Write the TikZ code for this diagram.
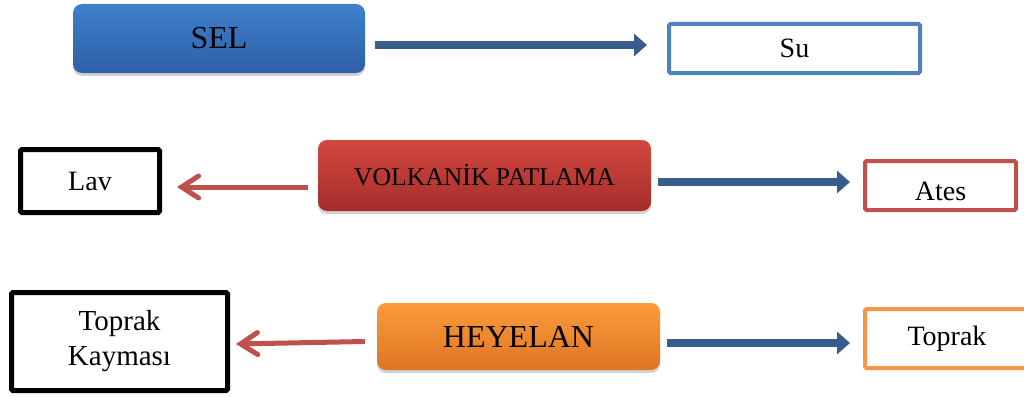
\documentclass[tikz,border=0pt]{standalone}
\usepackage{fontspec}
\setmainfont{Liberation Serif}
\usetikzlibrary{arrows.meta,shadows}
\definecolor{bluefillA}{HTML}{3E80CC}
\definecolor{bluefillB}{HTML}{2E5FA6}
\definecolor{redfillA}{HTML}{D2473F}
\definecolor{redfillB}{HTML}{A52E2B}
\definecolor{orfillA}{HTML}{FB9C3C}
\definecolor{orfillB}{HTML}{DE7424}
\definecolor{bluedge}{HTML}{4F81BD}
\definecolor{redge}{HTML}{C0504D}
\definecolor{oredge}{HTML}{F79646}
\definecolor{arrblue}{HTML}{385D8A}
\definecolor{arrred}{HTML}{C0504D}
\tikzset{
  shbox/.style={rounded corners=9pt, inner sep=0pt, text=black,
    drop shadow={shadow xshift=0pt, shadow yshift=-3pt, opacity=0.35}},
  obox/.style={draw, rounded corners=1.5pt, inner sep=0pt, fill=white, text=black},
  bluearr/.style={draw=arrblue, line width=8pt, -{Triangle[length=13pt,width=22pt]}},
  redarr/.style={draw=arrred, line width=5pt, -{Straight Barb[length=17pt,width=22pt,line cap=round]}},
}
\begin{document}
\begin{tikzpicture}[x=1pt,y=-1pt]
\useasboundingbox (0,0) rectangle (1024,396);
% row 1
\node[shbox, top color=bluefillA, bottom color=bluefillB, minimum width=292pt, minimum height=69pt,
  font=\fontsize{32}{36}\selectfont] (sel) at (219,38.5) {SEL};
\node[obox, draw=bluedge, line width=4pt, minimum width=251pt, minimum height=49pt,
  font=\fontsize{28}{32}\selectfont] (su) at (794.5,48.5) {Su};
\draw[bluearr] ([xshift=10pt,yshift=-6.5pt]sel.east) -- ([xshift=-20pt,yshift=3.5pt]su.west);
% row 2
\node[obox, draw=black, line width=5pt, minimum width=139pt, minimum height=63pt,
  font=\fontsize{28}{32}\selectfont] (lav) at (90,181) {Lav};
\node[shbox, top color=redfillA, bottom color=redfillB, minimum width=333pt, minimum height=71pt,
  font=\fontsize{25.7}{30}\selectfont] (volk) at (484.5,175.5) {VOLKANİK PATLAMA};
\node[obox, draw=redge, line width=4pt, minimum width=151pt, minimum height=49pt,
  font=\fontsize{28}{32}\selectfont] (ates) at (940.5,185.5) {\raisebox{-14.5pt}[0pt][0pt]{Ates}};
\draw[redarr] ([xshift=-10pt,yshift=-11.5pt]volk.west) -- ([xshift=15pt,yshift=-6pt]lav.east);
\draw[bluearr] ([xshift=7pt,yshift=-6.5pt]volk.east) -- ([xshift=-13pt,yshift=3.5pt]ates.west);
% row 3
\node[obox, draw=black, line width=5pt, minimum width=216pt, minimum height=98pt, align=center,
  font=\fontsize{29}{35}\selectfont] (tk) at (119.5,341.5) {Toprak\\Kayması};
\node[shbox, top color=orfillA, bottom color=orfillB, minimum width=283pt, minimum height=67pt,
  font=\fontsize{32}{36}\selectfont] (hey) at (518.5,336.5) {HEYELAN};
\node[obox, draw=oredge, line width=4pt, minimum width=164pt, minimum height=59pt,
  font=\fontsize{28}{32}\selectfont] (top) at (947,338.5) {Toprak};
\draw[redarr] ([xshift=-12pt,yshift=-5pt]hey.west) -- ([xshift=6pt,yshift=-2.5pt]tk.east);
\draw[bluearr] ([xshift=7pt,yshift=-6.5pt]hey.east) -- ([xshift=-13pt,yshift=-4.5pt]top.west);
\end{tikzpicture}
\end{document}
